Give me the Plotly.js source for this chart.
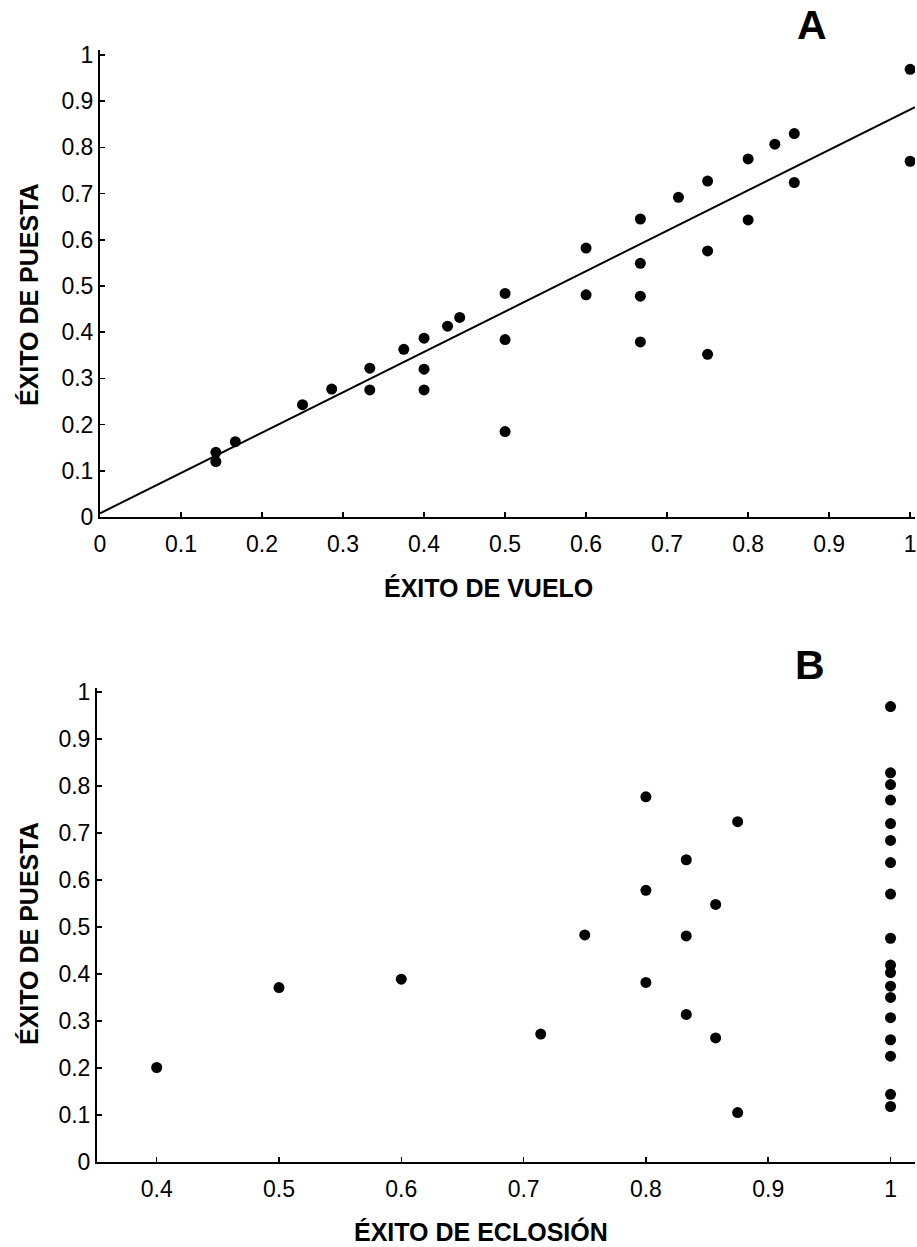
<!DOCTYPE html>
<html>
<head>
<meta charset="utf-8">
<script src="https://cdn.plot.ly/plotly-3.0.1.min.js"></script>
<style>html,body{margin:0;padding:0;background:#fff;}#chart{width:917px;height:1247px;}</style>
</head>
<body>
<div id="chart"></div>
<script>
// Panel A: flight success vs laying success
const vueloX = [0.143,0.143,0.167,0.25,0.286,0.333,0.333,0.375,0.4,0.4,0.4,0.429,0.444,0.5,0.5,0.5,0.6,0.6,0.667,0.667,0.667,0.667,0.714,0.75,0.75,0.75,0.8,0.8,0.833,0.857,0.857,1,1];
const puestaA = [0.14,0.12,0.163,0.243,0.277,0.322,0.275,0.363,0.387,0.32,0.275,0.413,0.432,0.484,0.384,0.185,0.582,0.481,0.645,0.549,0.478,0.379,0.692,0.727,0.576,0.352,0.775,0.643,0.807,0.83,0.724,0.969,0.77];
// regression line (end points)
const lineX = [0, 1.006];
const lineY = [0.008, 0.887];

// Panel B: hatching success vs laying success
const eclosionX = [0.4,0.5,0.6,0.714,0.75,0.8,0.8,0.8,0.833,0.833,0.833,0.857,0.857,0.875,0.875,1,1,1,1,1,1,1,1,1,1,1,1,1,1,1,1,1,1];
const puestaB = [0.201,0.371,0.389,0.272,0.483,0.777,0.578,0.382,0.643,0.481,0.314,0.548,0.264,0.724,0.105,0.969,0.828,0.803,0.77,0.72,0.684,0.637,0.57,0.476,0.419,0.403,0.374,0.35,0.307,0.26,0.225,0.144,0.118];

const tickA = [0,0.1,0.2,0.3,0.4,0.5,0.6,0.7,0.8,0.9,1];
const tickTextA = ['0','0.1','0.2','0.3','0.4','0.5','0.6','0.7','0.8','0.9','1'];
const tickBx = [0.4,0.5,0.6,0.7,0.8,0.9,1];
const tickTextBx = ['0.4','0.5','0.6','0.7','0.8','0.9','1'];

const panelLabels = ['A','B'];
const xTitles = ['ÉXITO DE VUELO','ÉXITO DE ECLOSIÓN'];
const yTitle = 'ÉXITO DE PUESTA';

const FONT = 'Liberation Sans, Arial, Helvetica, sans-serif';
const NARROW = 'Liberation Sans Narrow, Arial Narrow, Liberation Sans, Arial, sans-serif';

const traces = [
  {x: vueloX, y: puestaA, type:'scatter', mode:'markers', xaxis:'x', yaxis:'y',
   marker:{size:11, color:'#000'}},
  {x: lineX, y: lineY, type:'scatter', mode:'lines', xaxis:'x', yaxis:'y',
   line:{color:'#000', width:2}},
  {x: eclosionX, y: puestaB, type:'scatter', mode:'markers', xaxis:'x2', yaxis:'y2',
   marker:{size:11, color:'#000'}}
];

const axBase = {
  showline:true, linecolor:'#000', linewidth:2, mirror:false,
  ticks:'inside', ticklen:5, tickwidth:1.5, tickcolor:'#000',
  showgrid:false, zeroline:false,
  tickfont:{family:FONT, size:23, color:'#000'}
};

const layout = {
  width:917, height:1247,
  margin:{l:97, r:2, t:0, b:0},
  paper_bgcolor:'#fff', plot_bgcolor:'rgba(0,0,0,0)',
  showlegend:false,
  xaxis: Object.assign({}, axBase, {domain:[0.00367,1], range:[0,1.006], anchor:'y',
    tickmode:'array', tickvals:tickA, ticktext:tickTextA, ticklabelstandoff:5}),
  yaxis: Object.assign({}, axBase, {domain:[0.5854,0.9599], range:[0,1.0108], anchor:'x',
    tickmode:'array', tickvals:tickA, ticktext:tickTextA, ticklabelstandoff:0}),
  xaxis2: Object.assign({}, axBase, {domain:[0,1], range:[0.3512,1.02], anchor:'y2',
    tickmode:'array', tickvals:tickBx, ticktext:tickTextBx, ticklabelstandoff:5}),
  yaxis2: Object.assign({}, axBase, {domain:[0.0682,0.4483], range:[0,1.0085], anchor:'x2',
    tickmode:'array', tickvals:tickA, ticktext:tickTextA, ticklabelstandoff:0}),
  annotations: [
    {text:panelLabels[0], xref:'paper', yref:'paper', x:0.874, y:0.98, xanchor:'center', yanchor:'middle',
     showarrow:false, font:{family:NARROW, size:41, weight:'bold', color:'#000'}},
    {text:panelLabels[1], xref:'paper', yref:'paper', x:0.8716, y:0.4667, xanchor:'center', yanchor:'middle',
     showarrow:false, font:{family:NARROW, size:41, weight:'bold', color:'#000'}},
    {text:xTitles[0], xref:'paper', yref:'paper', x:0.478, y:0.5285, xanchor:'center', yanchor:'middle',
     showarrow:false, font:{family:FONT, size:25, weight:'bold', color:'#000'}},
    {text:xTitles[1], xref:'paper', yref:'paper', x:0.4694, y:0.0128, xanchor:'center', yanchor:'middle',
     showarrow:false, font:{family:FONT, size:25, weight:'bold', color:'#000'}},
    {text:yTitle, xref:'paper', yref:'paper', x:-0.0831, y:0.7634, xanchor:'center', yanchor:'middle', textangle:-90,
     showarrow:false, font:{family:FONT, size:25, weight:'bold', color:'#000'}},
    {text:yTitle, xref:'paper', yref:'paper', x:-0.0831, y:0.251, xanchor:'center', yanchor:'middle', textangle:-90,
     showarrow:false, font:{family:FONT, size:25, weight:'bold', color:'#000'}}
  ]
};

Plotly.newPlot('chart', traces, layout, {displayModeBar:false, staticPlot:true});
</script>
</body>
</html>
